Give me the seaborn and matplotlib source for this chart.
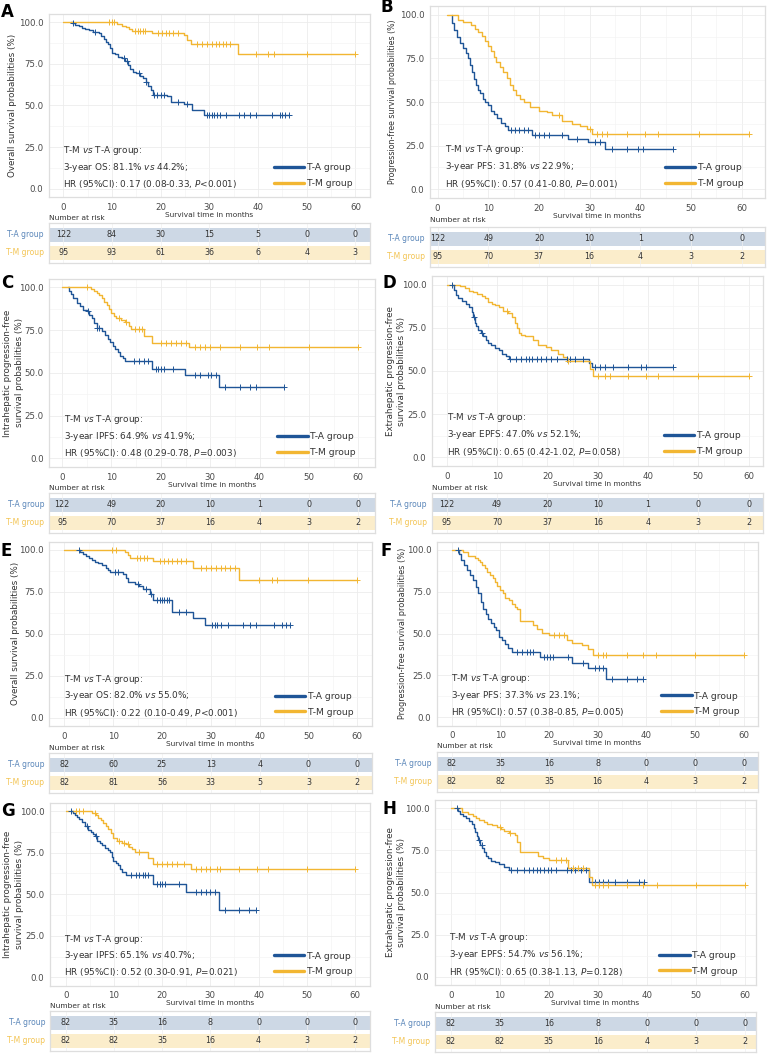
import matplotlib
matplotlib.use("Agg")
import matplotlib.pyplot as plt
from matplotlib.lines import Line2D
import seaborn as sns

# ---------------- data ----------------
GROUPS = ["T-A group", "T-M group"]
RISK_TIMES = [0, 10, 20, 30, 40, 50, 60]

# Panel A (OS, full cohort)
A_TA_START = 1.5
A_TA_T = [1.8, 2.5, 3.2, 3.8, 4.5, 5.2, 6.0, 7.3, 7.8, 8.3, 8.8, 9.2, 9.6, 10.0, 10.6, 11.3, 12.0, 12.6, 13.2, 13.7, 14.4, 15.0, 15.8, 16.4, 17.0, 17.5, 18.0, 18.5, 21.3, 22.2, 24.8, 26.5, 28.9]
A_TA_S = [99.2, 98.4, 97.5, 96.7, 95.9, 95.0, 94.2, 93.3, 91.7, 90.0, 88.3, 86.7, 84.2, 81.7, 80.8, 79.2, 78.3, 76.7, 74.0, 71.7, 70.0, 69.2, 67.5, 66.7, 64.2, 61.7, 59.2, 56.3, 55.5, 52.0, 51.0, 47.0, 44.2]
A_TA_C = [2.0, 6.5, 12.5, 13.0, 15.5, 17.0, 18.7, 19.3, 20.0, 20.7, 23.5, 25.5, 29.5, 30.0, 30.5, 31.0, 31.6, 32.2, 33.5, 36.0, 37.2, 38.3, 39.5, 42.8, 44.5, 45.0, 45.5, 46.3]
A_TM_START = 0.0
A_TM_T = [11.0, 12.0, 12.8, 13.5, 14.2, 18.2, 24.8, 25.5, 26.3, 35.8]
A_TM_S = [98.9, 97.8, 96.8, 95.7, 94.5, 93.3, 92.0, 89.5, 87.0, 81.1]
A_TM_C = [9.3, 10.0, 10.5, 14.8, 15.3, 15.8, 16.3, 16.8, 19.5, 20.3, 21.0, 21.8, 22.5, 23.5, 27.5, 28.5, 29.5, 30.5, 31.3, 32.0, 32.8, 33.5, 34.3, 39.5, 42.0, 43.2, 50.0, 60.0]

# Panel B (PFS, full cohort)
B_TA_START = 2.8
B_TA_T = [2.9, 3.3, 3.8, 4.4, 5.0, 5.6, 6.0, 6.4, 6.8, 7.1, 7.5, 7.9, 8.4, 8.9, 9.4, 10.0, 10.6, 11.2, 11.8, 12.5, 13.2, 13.8, 18.7, 25.8, 29.6, 33.0]
B_TA_S = [95, 91, 87, 84, 81, 78, 75, 71, 67, 63, 60, 57, 55, 52, 50, 48, 45, 43, 41, 38, 36, 34, 31, 29, 26.8, 22.9]
B_TA_C = [14.5, 15.3, 16.0, 17.0, 17.8, 19.3, 20.0, 21.0, 22.0, 24.5, 27.5, 31.0, 32.0, 34.5, 37.3, 39.5, 40.5, 46.5]
B_TM_START = 1.8
B_TM_T = [4.0, 5.0, 6.5, 7.3, 8.0, 8.7, 9.3, 10.0, 10.6, 11.1, 11.6, 12.3, 13.0, 13.6, 14.2, 14.8, 15.4, 16.2, 17.0, 18.3, 20.0, 21.5, 22.5, 24.5, 26.5, 28.0, 29.5, 30.5]
B_TM_S = [97, 96, 94, 92, 90, 88, 85, 82, 79, 76, 73, 70, 67, 64, 60, 57, 54, 52, 50, 47, 45, 44, 42.5, 39, 37.5, 36.5, 34.5, 31.8]
B_TM_C = [24.0, 30.0, 31.5, 32.5, 33.5, 37.3, 41.0, 43.5, 51.5, 61.5]

# Panel C (IPFS, full cohort)
C_TA_START = 1.2
C_TA_T = [1.3, 1.8, 2.3, 3.0, 3.6, 4.3, 5.0, 5.5, 6.0, 6.5, 7.0, 8.0, 8.6, 9.2, 9.8, 10.3, 10.8, 11.3, 11.8, 12.3, 12.8, 18.2, 24.8, 31.7]
C_TA_S = [98, 96, 93.5, 91, 89, 87, 86, 84, 82, 79, 76, 74.5, 72, 70, 68, 66, 64, 62, 60, 58.5, 57, 52.3, 49, 41.9]
C_TA_C = [5.2, 7.0, 7.5, 14.5, 15.5, 16.5, 17.5, 19.0, 19.5, 20.0, 20.6, 22.5, 27.0, 28.0, 29.5, 30.2, 31.2, 33.0, 36.0, 38.0, 39.3, 45.0]
C_TM_START = 0.0
C_TM_T = [5.8, 6.5, 7.0, 7.5, 8.0, 8.5, 9.0, 9.5, 10.0, 10.5, 11.0, 12.0, 12.8, 13.5, 14.0, 16.6, 18.3, 25.8]
C_TM_S = [98.9, 97.8, 96.8, 95.7, 93.6, 91.5, 89.4, 87.2, 85.1, 83.0, 82.0, 80.9, 79.8, 77.7, 75.5, 71.5, 67.6, 64.9]
C_TM_C = [5.0, 11.5, 13.0, 14.8, 15.6, 16.2, 20.0, 21.0, 22.0, 23.0, 24.0, 25.0, 27.0, 28.0, 29.0, 30.0, 32.0, 36.0, 39.5, 42.0, 50.0, 60.0]

# Panel D (EPFS, full cohort)
D_TA_START = 1.1
D_TA_T = [1.4, 1.8, 2.3, 3.0, 3.8, 4.4, 5.0, 5.3, 5.6, 5.9, 6.3, 6.7, 7.2, 7.7, 8.2, 8.8, 9.5, 10.3, 11.0, 11.7, 12.3, 28.2, 28.8]
D_TA_S = [97, 94, 92, 90.5, 89, 87, 84, 81, 78, 76, 74, 72, 70, 68, 66, 65, 63.5, 62, 60, 58.5, 56.8, 54.5, 52.1]
D_TA_C = [1.1, 5.5, 7.0, 12.5, 13.8, 14.8, 15.8, 16.3, 17.0, 18.0, 18.8, 19.8, 20.8, 22.0, 23.8, 24.5, 25.5, 27.0, 29.5, 30.5, 31.5, 33.0, 36.0, 38.5, 39.5, 45.0]
D_TM_START = 0.0
D_TM_T = [2.6, 3.6, 4.5, 5.2, 6.0, 6.9, 7.6, 8.2, 9.0, 9.5, 10.3, 11.2, 12.2, 13.0, 13.5, 13.9, 14.3, 14.8, 15.5, 17.2, 18.1, 19.8, 20.8, 22.1, 23.0, 23.8, 28.5, 29.0]
D_TM_S = [99, 98, 96.5, 95.5, 94.5, 93.5, 92, 90, 89, 88, 87, 85, 83.4, 81.5, 78, 75, 72, 71, 70, 68, 65, 63.7, 62, 60, 58, 55.6, 51, 47]
D_TM_C = [12.0, 24.0, 30.0, 31.5, 32.5, 36.0, 39.5, 42.0, 50.0, 60.0]

# Panel E (OS, matched cohort)
E_TA_START = 3.0
E_TA_T = [3.3, 3.9, 4.5, 5.0, 5.6, 6.2, 7.0, 7.8, 8.5, 9.0, 9.4, 12.0, 12.6, 13.1, 14.5, 15.3, 16.2, 17.5, 18.2, 22.1, 26.4, 28.9]
E_TA_S = [98.8, 97.6, 96.3, 95.1, 93.9, 93.0, 92.0, 90.8, 89.5, 88.2, 87.0, 85.7, 83.0, 81.0, 79.8, 78.5, 77.0, 74.0, 70.0, 63.3, 59.5, 55.0]
E_TA_C = [3.0, 10.3, 11.0, 15.0, 16.8, 17.8, 19.0, 19.5, 20.0, 20.5, 21.0, 21.5, 23.5, 25.0, 30.3, 30.8, 31.3, 32.0, 33.5, 36.5, 38.0, 39.3, 43.0, 44.5, 45.3, 46.3]
E_TM_START = 0.0
E_TM_T = [12.5, 13.0, 13.5, 18.2, 26.4, 35.8]
E_TM_S = [98.8, 97.0, 95.0, 93.4, 89.0, 82.0]
E_TM_C = [9.8, 10.5, 14.8, 15.5, 16.3, 17.0, 19.5, 20.5, 21.2, 22.0, 23.0, 24.0, 25.0, 28.0, 29.0, 30.0, 31.0, 32.0, 33.0, 34.0, 35.0, 39.8, 42.5, 43.5, 50.0, 60.0]

# Panel F (PFS, matched cohort)
F_TA_START = 1.3
F_TA_T = [1.5, 2.0, 2.6, 3.2, 3.8, 4.4, 5.0, 5.5, 6.0, 6.5, 7.0, 7.5, 8.0, 8.6, 9.2, 9.8, 10.4, 11.0, 11.6, 12.5, 18.2, 24.7, 28.1, 31.8]
F_TA_S = [97.5, 94, 91, 88, 85, 82, 78, 74, 69, 65, 62, 59, 56.5, 54, 52, 48, 46.5, 44, 41.5, 39.2, 35.9, 32.6, 29.3, 23.1]
F_TA_C = [1.3, 13.5, 14.5, 15.5, 16.0, 16.8, 19.0, 19.5, 20.3, 20.8, 24.0, 27.0, 29.5, 30.2, 31.0, 33.0, 36.0, 38.0, 39.3]
F_TM_START = 0.0
F_TM_T = [2.3, 3.4, 4.8, 5.4, 5.8, 6.3, 6.8, 7.3, 7.9, 8.4, 8.9, 9.4, 9.9, 10.5, 11.0, 11.7, 12.3, 13.0, 13.4, 14.0, 16.8, 17.5, 18.5, 20.0, 23.6, 24.7, 26.7, 28.1, 29.1]
F_TM_S = [98.8, 96.5, 95.2, 93.9, 92.6, 91.3, 89.2, 87.0, 85.0, 83.3, 80.6, 78.5, 76.3, 74.1, 71.5, 70.0, 68.0, 66.0, 64.5, 57.8, 55.2, 52.6, 50.2, 49.0, 46.0, 44.2, 43.0, 41.0, 37.3]
F_TM_C = [21.0, 22.0, 23.0, 30.0, 31.0, 31.8, 36.0, 39.3, 42.0, 50.0, 60.0]

# Panel G (IPFS, matched cohort)
G_TA_START = 1.2
G_TA_T = [1.5, 1.9, 2.3, 2.8, 3.3, 4.0, 4.7, 5.2, 5.7, 6.1, 6.5, 7.1, 7.6, 8.2, 8.7, 9.2, 9.6, 9.9, 10.5, 10.9, 11.3, 11.7, 12.5, 18.2, 24.9, 31.8]
G_TA_S = [98.8, 97.5, 96.2, 94.9, 93.5, 91.0, 88.5, 87.2, 86.0, 84.7, 82.0, 80.6, 79.3, 78.0, 76.7, 75.5, 72.5, 70.0, 68.8, 67.5, 65.0, 63.5, 61.3, 56.0, 51.2, 40.7]
G_TA_C = [1.2, 4.5, 6.3, 13.5, 14.5, 15.2, 16.0, 16.5, 17.0, 19.0, 19.5, 20.0, 20.5, 23.5, 27.0, 28.0, 29.0, 30.0, 31.0, 33.0, 36.0, 38.0, 39.4]
G_TM_START = 0.0
G_TM_T = [5.5, 6.2, 6.8, 7.3, 7.8, 8.3, 8.8, 9.3, 9.9, 10.6, 11.6, 12.6, 13.2, 13.7, 14.4, 17.0, 18.2, 26.0]
G_TM_S = [98.8, 97.5, 96.0, 94.5, 93.0, 91.0, 89.0, 86.5, 83.6, 82.0, 81.0, 80.0, 78.5, 77.0, 75.4, 71.7, 67.9, 65.1]
G_TM_C = [2.2, 2.8, 3.6, 6.0, 11.0, 12.0, 13.0, 15.3, 19.0, 20.0, 21.0, 22.0, 23.0, 24.5, 27.0, 28.0, 29.0, 30.0, 31.3, 32.0, 36.0, 39.6, 42.0, 50.0, 60.0]

# Panel H (EPFS, matched cohort)
H_TA_START = 1.2
H_TA_T = [1.5, 2.0, 2.6, 3.2, 3.8, 4.3, 4.7, 5.0, 5.3, 5.6, 6.0, 6.4, 6.8, 7.2, 7.7, 8.2, 9.0, 9.8, 10.8, 11.8, 28.3]
H_TA_S = [98.2, 96.5, 95.5, 94.5, 92.5, 90.5, 88.5, 86.0, 83.5, 81.0, 78.5, 76.5, 74.0, 72.0, 70.5, 69.0, 68.0, 67.0, 65.2, 63.4, 56.1]
H_TA_C = [1.2, 5.8, 6.3, 12.3, 13.5, 15.0, 16.0, 16.8, 17.5, 18.3, 19.0, 19.8, 20.5, 21.5, 23.8, 24.5, 25.3, 26.5, 27.5, 29.5, 30.3, 31.0, 32.0, 33.5, 36.0, 38.3, 39.5]
H_TM_START = 0.0
H_TM_T = [2.3, 3.5, 4.6, 5.2, 5.7, 6.7, 7.5, 8.4, 9.4, 10.2, 10.8, 11.8, 13.1, 13.6, 14.2, 17.9, 18.9, 20.0, 24.0, 28.3, 28.8]
H_TM_S = [97.6, 96.5, 95.4, 94.2, 93.1, 92.0, 91.0, 89.9, 88.7, 87.5, 86.3, 85.1, 84.0, 80.0, 74.3, 72.0, 70.6, 69.3, 64.4, 59.0, 54.7]
H_TM_C = [10.0, 12.0, 21.5, 22.5, 23.5, 25.0, 26.0, 27.0, 29.5, 30.3, 31.0, 32.0, 36.0, 39.3, 42.0, 50.0, 60.0]

# Numbers at risk
RISK_FULL_OS_TA = [122, 84, 30, 15, 5, 0, 0]
RISK_FULL_OS_TM = [95, 93, 61, 36, 6, 4, 3]
RISK_FULL_PFS_TA = [122, 49, 20, 10, 1, 0, 0]
RISK_FULL_PFS_TM = [95, 70, 37, 16, 4, 3, 2]
RISK_PSM_OS_TA = [82, 60, 25, 13, 4, 0, 0]
RISK_PSM_OS_TM = [82, 81, 56, 33, 5, 3, 2]
RISK_PSM_PFS_TA = [82, 35, 16, 8, 0, 0, 0]
RISK_PSM_PFS_TM = [82, 82, 35, 16, 4, 3, 2]

YLABELS = {
    "OS": "Overall survival probabilities (%)",
    "PFS": "Progression-free survival probabilities (%)",
    "IPFS": "Intrahepatic progression-free\nsurvival probabilities (%)",
    "EPFS": "Extrahepatic progression-free\nsurvival probabilities (%)",
}
STATS_A = ["3-year OS: 81.1% $\\it{vs}$ 44.2%;", "HR (95%CI): 0.17 (0.08-0.33, $\\it{P}$<0.001)"]
STATS_B = ["3-year PFS: 31.8% $\\it{vs}$ 22.9%;", "HR (95%CI): 0.57 (0.41-0.80, $\\it{P}$=0.001)"]
STATS_C = ["3-year IPFS: 64.9% $\\it{vs}$ 41.9%;", "HR (95%CI): 0.48 (0.29-0.78, $\\it{P}$=0.003)"]
STATS_D = ["3-year EPFS: 47.0% $\\it{vs}$ 52.1%;", "HR (95%CI): 0.65 (0.42-1.02, $\\it{P}$=0.058)"]
STATS_E = ["3-year OS: 82.0% $\\it{vs}$ 55.0%;", "HR (95%CI): 0.22 (0.10-0.49, $\\it{P}$<0.001)"]
STATS_F = ["3-year PFS: 37.3% $\\it{vs}$ 23.1%;", "HR (95%CI): 0.57 (0.38-0.85, $\\it{P}$=0.005)"]
STATS_G = ["3-year IPFS: 65.1% $\\it{vs}$ 40.7%;", "HR (95%CI): 0.52 (0.30-0.91, $\\it{P}$=0.021)"]
STATS_H = ["3-year EPFS: 54.7% $\\it{vs}$ 56.1%;", "HR (95%CI): 0.65 (0.38-1.13, $\\it{P}$=0.128)"]

# ---------------- style ----------------
sns.set_theme(style="white")
plt.rcParams["font.family"] = ["DejaVu Sans"]
plt.rcParams["mathtext.fontset"] = "dejavusans"

BLUE = "#1f5597"
YELLOW = "#f2b632"
BLUE_LABEL = "#5a86b9"
YELLOW_LABEL = "#f3c453"
BAND_BLUE = "#cdd8e5"
BAND_YELLOW = "#fbedcb"
FRAME = "#dedede"
GRID = "#ececec"
TXT = "#333333"
TICK = "#4a4a4a"

W, H = 769, 1054
fig = plt.figure(figsize=(W / 100, H / 100), dpi=100)
fig.patch.set_facecolor("white")


def box(l, t, r, b):
    return [l / W, 1 - b / H, (r - l) / W, (b - t) / H]


def surv_at(t, times, surv):
    s = 100.0
    for ti, si in zip(times, surv):
        if ti <= t:
            s = si
    return s


def draw_curve(ax, start, times, surv, cens, color):
    end = max([start] + list(times) + list(cens))
    xs = [start] + list(times) + [end]
    ys = [100.0] + list(surv) + [surv[-1]]
    sns.lineplot(x=xs, y=ys, ax=ax, color=color, lw=1.0, estimator=None,
                 sort=False, drawstyle="steps-post", legend=False)
    cy = [surv_at(c, times, surv) for c in cens]
    sns.scatterplot(x=cens, y=cy, ax=ax, color=color, marker="+", s=14,
                    linewidth=0.7, legend=False, zorder=4)


# ylx = right edge (in px) of the rotated y-label block
PANELS = [
    dict(letter="A", kind="OS", main=(48.7, 13.7, 370, 197), tab=(48.7, 223, 370, 263), nar=218,
         xlim=(-3, 63), stats=STATS_A, risk=(RISK_FULL_OS_TA, RISK_FULL_OS_TM),
         ta=(A_TA_START, A_TA_T, A_TA_S, A_TA_C), tm=(A_TM_START, A_TM_T, A_TM_S, A_TM_C),
         lp=(1, 3), ylx=17, yfs=6.3),
    dict(letter="B", kind="PFS", main=(430, 6, 765, 198), tab=(430, 227, 765, 267), nar=220,
         xlim=(-1.5, 64.6), stats=STATS_B, risk=(RISK_FULL_PFS_TA, RISK_FULL_PFS_TM),
         ta=(B_TA_START, B_TA_T, B_TA_S, B_TA_C), tm=(B_TM_START, B_TM_T, B_TM_S, B_TM_C),
         lp=(380, -2), ylx=397, yfs=5.7),
    dict(letter="C", kind="IPFS", main=(49.3, 278.8, 375, 467), tab=(49.3, 493, 375, 533), nar=488,
         xlim=(-2.6, 63.4), stats=STATS_C, risk=(RISK_FULL_PFS_TA, RISK_FULL_PFS_TM),
         ta=(C_TA_START, C_TA_T, C_TA_S, C_TA_C), tm=(C_TM_START, C_TM_T, C_TM_S, C_TM_C),
         lp=(1, 274), ylx=23.5, yfs=6.3),
    dict(letter="D", kind="EPFS", main=(431.7, 276, 763.3, 466), tab=(431.7, 493, 763.3, 533), nar=488,
         xlim=(-3, 62.9), stats=STATS_D, risk=(RISK_FULL_PFS_TA, RISK_FULL_PFS_TM),
         ta=(D_TA_START, D_TA_T, D_TA_S, D_TA_C), tm=(D_TM_START, D_TM_T, D_TM_S, D_TM_C),
         lp=(382, 274), ylx=406, yfs=6.3),
    dict(letter="E", kind="OS", main=(49.3, 541.6, 371.7, 726), tab=(49.3, 753, 371.7, 793), nar=748,
         xlim=(-3.07, 62.95), stats=STATS_E, risk=(RISK_PSM_OS_TA, RISK_PSM_OS_TM),
         ta=(E_TA_START, E_TA_T, E_TA_S, E_TA_C), tm=(E_TM_START, E_TM_T, E_TM_S, E_TM_C),
         lp=(1, 542), ylx=19.5, yfs=6.3),
    dict(letter="F", kind="PFS", main=(436.7, 541.6, 757.7, 725.7), tab=(436.7, 752, 757.7, 792), nar=746,
         xlim=(-3.08, 62.9), stats=STATS_F, risk=(RISK_PSM_PFS_TA, RISK_PSM_PFS_TM),
         ta=(F_TA_START, F_TA_T, F_TA_S, F_TA_C), tm=(F_TM_START, F_TM_T, F_TM_S, F_TM_C),
         lp=(381, 542), ylx=407, yfs=5.9),
    dict(letter="G", kind="IPFS", main=(50, 802.7, 370, 985.6), tab=(50, 1011, 370, 1051), nar=1006,
         xlim=(-3.25, 63.1), stats=STATS_G, risk=(RISK_PSM_PFS_TA, RISK_PSM_PFS_TM),
         ta=(G_TA_START, G_TA_T, G_TA_S, G_TA_C), tm=(G_TM_START, G_TM_T, G_TM_S, G_TM_C),
         lp=(1, 802), ylx=23.5, yfs=6.3),
    dict(letter="H", kind="EPFS", main=(435, 800, 755.7, 985.1), tab=(435, 1012, 755.7, 1052), nar=1007,
         xlim=(-3.2, 62.2), stats=STATS_H, risk=(RISK_PSM_PFS_TA, RISK_PSM_PFS_TM),
         ta=(H_TA_START, H_TA_T, H_TA_S, H_TA_C), tm=(H_TM_START, H_TM_T, H_TM_S, H_TM_C),
         lp=(382, 800), ylx=406, yfs=6.3),
]

for p in PANELS:
    l, t, r, b = p["main"]
    ax = fig.add_axes(box(l, t, r, b))
    ax.set_facecolor("white")
    draw_curve(ax, *p["ta"], BLUE)
    draw_curve(ax, *p["tm"], YELLOW)
    ax.set_xlim(*p["xlim"])
    ax.set_ylim(-5, 105)
    ax.set_xticks(RISK_TIMES)
    ax.set_yticks([0, 25, 50, 75, 100])
    ax.set_yticklabels([f"{v:.1f}" for v in [0, 25, 50, 75, 100]])
    ax.set_xticks([5, 15, 25, 35, 45, 55], minor=True)
    ax.set_yticks([12.5, 37.5, 62.5, 87.5], minor=True)
    ax.grid(True, which="major", color=GRID, lw=0.6)
    ax.grid(True, which="minor", color="#f4f4f4", lw=0.5)
    ax.set_axisbelow(True)
    for s in ax.spines.values():
        s.set_color(FRAME)
        s.set_linewidth(0.9)
    ax.tick_params(axis="both", which="major", labelsize=6.2, colors=TICK, length=2, width=0.6, pad=2)
    ax.tick_params(axis="both", which="minor", length=0)
    ax.set_xlabel("Survival time in months", fontsize=5.3, color=TXT, labelpad=0)
    ax.set_ylabel(YLABELS[p["kind"]], fontsize=p["yfs"], color=TXT, linespacing=1.35)
    ax.yaxis.set_label_coords(-(l - p["ylx"]) / (r - l), 0.5)

    # stats text
    ax.text(0.045, 23, "T-M $\\it{vs}$ T-A group:", transform=ax.get_yaxis_transform(),
            fontsize=6.4, color=TXT, va="center", ha="left")
    ax.text(0.045, 13, p["stats"][0], transform=ax.get_yaxis_transform(),
            fontsize=6.4, color=TXT, va="center", ha="left")
    ax.text(0.045, 3, p["stats"][1], transform=ax.get_yaxis_transform(),
            fontsize=6.4, color=TXT, va="center", ha="left")

    handles = [Line2D([], [], color=BLUE, lw=2.4), Line2D([], [], color=YELLOW, lw=2.4)]
    ax.legend(handles, GROUPS, loc="center left", bbox_to_anchor=(0.70, (8 + 5) / 110),
              frameon=False, fontsize=6.6, handlelength=3.3, handletextpad=0.3,
              labelspacing=0.75, borderpad=0, borderaxespad=0, labelcolor=TXT)

    # risk table
    tl, tt, tr, tb = p["tab"]
    axt = fig.add_axes(box(tl, tt, tr, tb))
    axt.set_xlim(*p["xlim"])
    axt.set_ylim(40, 0)
    axt.axhspan(5, 18.5, color=BAND_BLUE, lw=0, zorder=0)
    axt.axhspan(23, 36.5, color=BAND_YELLOW, lw=0, zorder=0)
    for xv in RISK_TIMES:
        axt.axvline(xv, color="#f0f0f0", lw=0.5, zorder=0.5)
    axt.set_xticks([])
    axt.set_yticks([])
    for s in axt.spines.values():
        s.set_color(FRAME)
        s.set_linewidth(0.9)
    for xv, n1, n2 in zip(RISK_TIMES, p["risk"][0], p["risk"][1]):
        axt.text(xv, 11.8, str(n1), ha="center", va="center", fontsize=5.8, color=TXT)
        axt.text(xv, 29.8, str(n2), ha="center", va="center", fontsize=5.8, color=TXT)
    axt.text(-0.015, 11.8, GROUPS[0], transform=axt.get_yaxis_transform(), ha="right",
             va="center", fontsize=5.5, color=BLUE_LABEL)
    axt.text(-0.015, 29.8, GROUPS[1], transform=axt.get_yaxis_transform(), ha="right",
             va="center", fontsize=5.5, color=YELLOW_LABEL)
    fig.text(tl / W, 1 - p["nar"] / H, "Number at risk", ha="left", va="center",
             fontsize=5.4, color=TXT)

    # panel letter
    fig.text(p["lp"][0] / W, 1 - p["lp"][1] / H, p["letter"], ha="left", va="top",
             fontsize=12, fontweight="bold", color="black")

fig.savefig("out.png", dpi=100, facecolor="white")
